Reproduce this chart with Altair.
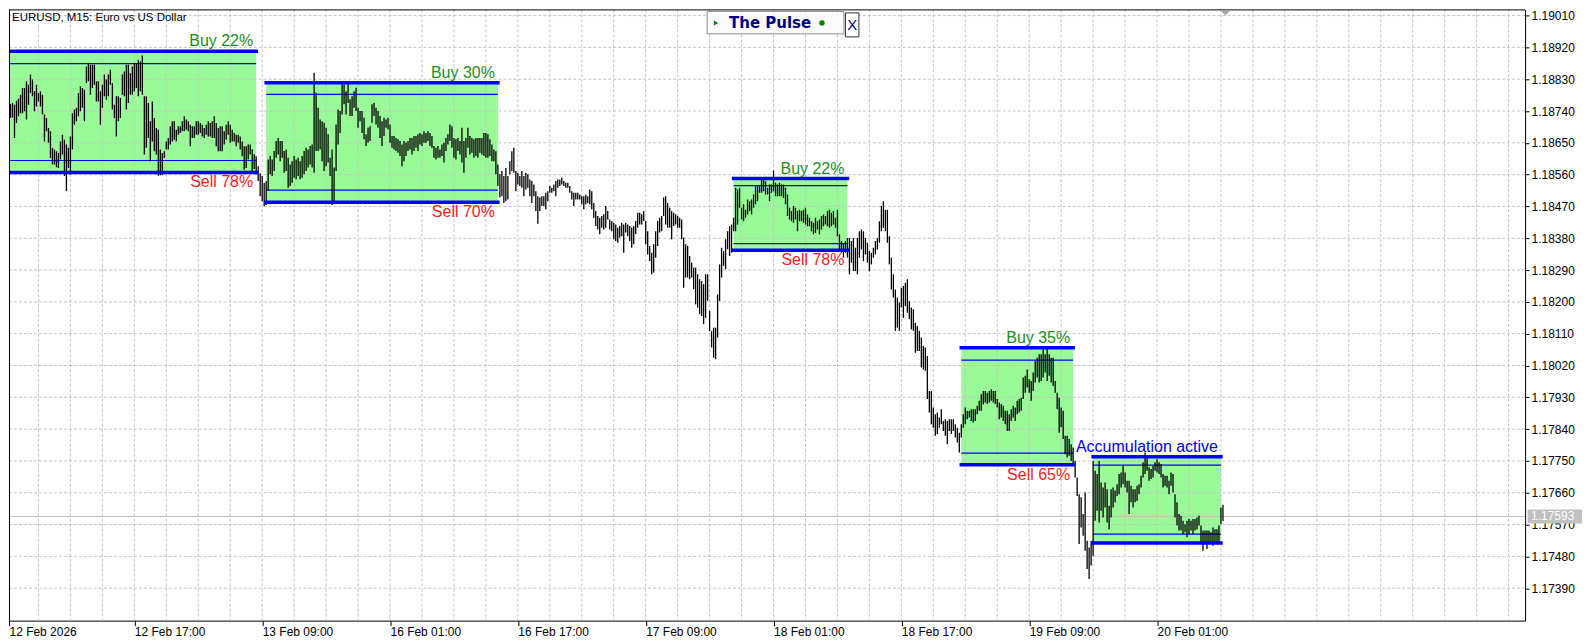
import json
import altair as alt
import pandas as pd

CHART_TITLE = "EURUSD, M15:  Euro vs US Dollar"

# Bar highs / lows in points (1 point = 0.00001), one entry per bar, oldest first
bar_high_pts = [
    118758, 118760, 118763, 118758, 118769, 118775, 118786, 118805, 118805, 118824,
    118814, 118843, 118829, 118796, 118814, 118791, 118796, 118786, 118730, 118720,
    118692, 118683, 118636, 118631, 118626, 118621, 118654, 118673, 118659, 118645,
    118636, 118668, 118734, 118744, 118749, 118791, 118810, 118805, 118800, 118866,
    118876, 118871, 118871, 118871, 118824, 118824, 118796, 118814, 118843, 118829,
    118843, 118857, 118819, 118758, 118782, 118782, 118777, 118843, 118852, 118871,
    118871, 118847, 118866, 118876, 118876, 118885, 118880, 118897, 118782, 118782,
    118763, 118711, 118767, 118720, 118692, 118687, 118631, 118621, 118626, 118654,
    118664, 118697, 118711, 118711, 118687, 118697, 118697, 118711, 118725, 118716,
    118711, 118701, 118697, 118697, 118711, 118711, 118706, 118701, 118692, 118701,
    118711, 118706, 118711, 118725, 118706, 118692, 118697, 118697, 118683, 118701,
    118711, 118701, 118687, 118678, 118673, 118673, 118668, 118654, 118640, 118640,
    118645, 118645,
    118632, 118618, 118612, 118584, 118564, 118556, 118536, 118541,
    118603, 118613, 118603, 118627, 118655, 118664, 118655, 118655, 118627, 118631,
    118608, 118589, 118598, 118613, 118603, 118608, 118598, 118613, 118627, 118636,
    118631, 118641, 118645, 118848, 118792, 118749, 118716, 118711, 118707, 118693,
    118674, 118608, 118631, 118580, 118702, 118744, 118740, 118824, 118815, 118796,
    118820, 118773, 118782, 118796, 118806, 118749, 118740, 118740, 118721, 118674,
    118693, 118697, 118759, 118763, 118749, 118740, 118726, 118711, 118721, 118716,
    118721, 118702, 118669, 118669, 118664, 118660, 118655, 118645, 118655, 118650,
    118655, 118664, 118664, 118669, 118669, 118674, 118678, 118674, 118683, 118678,
    118683, 118678, 118669, 118641, 118636, 118641, 118631, 118645, 118650, 118664,
    118674, 118702, 118697, 118664, 118660, 118664, 118655, 118693, 118655, 118664,
    118693, 118669, 118664, 118660, 118664, 118664, 118664, 118664, 118678, 118678,
    118674, 118660, 118645, 118631,
    118626, 118589, 118561, 118570, 118556, 118579,
    118556, 118598, 118626, 118636, 118570, 118565, 118556, 118570, 118556, 118565,
    118561, 118546, 118542, 118532, 118513, 118499, 118495, 118499, 118499, 118509,
    118513, 118528, 118523, 118532, 118542, 118546, 118546, 118551, 118542, 118537,
    118537, 118528, 118513, 118509, 118509, 118509, 118504, 118499, 118499, 118504,
    118499, 118518, 118513, 118480, 118457, 118443, 118438, 118443, 118448, 118471,
    118457, 118433, 118429, 118424, 118419, 118410, 118415, 118424, 118419, 118424,
    118419, 118415, 118410, 118415, 118429, 118452, 118452, 118448, 118457, 118429,
    118400, 118358, 118339, 118363, 118400, 118429, 118438, 118443, 118495, 118499,
    118480, 118466, 118457, 118452, 118448, 118443, 118438, 118433, 118382, 118363,
    118358, 118330, 118311, 118297, 118297, 118278, 118264, 118259, 118250, 118278,
    118278, 118174, 118118, 118127, 118127, 118221, 118306, 118353, 118344, 118377,
    118400, 118415, 118419, 118438,
    118523, 118518, 118523, 118466, 118476, 118461,
    118490, 118485, 118490, 118504, 118527, 118527, 118527, 118551, 118551, 118541,
    118523, 118532, 118532, 118572, 118537, 118532, 118537, 118532, 118532, 118523,
    118504, 118466, 118457, 118471, 118466, 118457, 118461, 118457, 118461, 118466,
    118447, 118438, 118428, 118424, 118438, 118428, 118433, 118443, 118447, 118443,
    118457, 118461, 118452, 118457, 118438, 118461, 118391, 118372, 118363, 118372,
    118381, 118381, 118372, 118381, 118353, 118381, 118400, 118405, 118400, 118381,
    118367, 118344, 118339, 118353, 118372, 118381, 118428, 118471, 118485, 118461,
    118461, 118386, 118325, 118278, 118235, 118212, 118198, 118240, 118245, 118254,
    118264, 118202, 118184, 118179, 118141, 118132, 118118, 118099, 118075, 118071,
    118047, 117948, 117948, 117901, 117882, 117887, 117873, 117896, 117863, 117868,
    117863, 117868, 117868, 117868, 117854, 117844, 117830, 117854, 117882, 117901,
    117892, 117892, 117896, 117896, 117896, 117906, 117920, 117939, 117948,
    117948, 117943, 117948, 117953, 117948, 117948, 117925, 117915, 117911, 117906, 117892,
    117892, 117882, 117896, 117906, 117901, 117920, 117925, 117929, 117986, 117991,
    118009, 117981, 117976, 118000, 118033, 118042, 118052, 118052, 118066, 118052,
    118075, 118052, 118042, 118042, 117976, 117943, 117929, 117901, 117892, 117821,
    117821, 117812, 117797, 117788, 117750, 117703, 117656, 117647, 117600, 117661,
    117524, 117505, 117524, 117750, 117722, 117713, 117750, 117689, 117675, 117689,
    117670, 117623, 117670, 117675, 117666, 117684, 117713, 117717, 117736, 117717,
    117694, 117694, 117680, 117670, 117670, 117680, 117684, 117708, 117746, 117774,
    117765, 117732, 117727, 117736, 117746, 117755, 117746, 117741, 117713, 117708,
    117708, 117694, 117717, 117713, 117656, 117633, 117600, 117595, 117581, 117571,
    117581, 117586, 117581, 117586, 117586, 117590, 117595, 117567, 117553, 117553,
    117553, 117553, 117548, 117562, 117557, 117557, 117567, 117618, 117626,
]

bar_low_pts = [
    118706, 118720, 118722, 118664, 118706, 118725, 118734, 118734, 118739, 118716,
    118758, 118791, 118782, 118739, 118753, 118767, 118753, 118730, 118654, 118683,
    118650, 118607, 118589, 118589, 118581, 118579, 118603, 118617, 118556, 118513,
    118579, 118560, 118631, 118701, 118711, 118725, 118739, 118749, 118711, 118819,
    118824, 118786, 118805, 118814, 118767, 118767, 118701, 118749, 118782, 118772,
    118782, 118814, 118744, 118720, 118668, 118711, 118720, 118786, 118782, 118744,
    118763, 118786, 118786, 118796, 118805, 118782, 118796, 118786, 118617, 118636,
    118664, 118598, 118654, 118626, 118617, 118557, 118558, 118558, 118607, 118631,
    118631, 118645, 118654, 118659, 118654, 118673, 118678, 118683, 118683, 118687,
    118683, 118640, 118664, 118664, 118673, 118673, 118678, 118668, 118664, 118673,
    118668, 118668, 118664, 118664, 118640, 118626, 118626, 118626, 118645, 118659,
    118673, 118650, 118654, 118654, 118640, 118650, 118631, 118612, 118574, 118579,
    118603, 118617,
    118570, 118576, 118561, 118542, 118499, 118485, 118471, 118474,
    118514, 118561, 118556, 118570, 118608, 118617, 118598, 118608, 118565, 118570,
    118523, 118528, 118537, 118551, 118547, 118556, 118547, 118551, 118561, 118570,
    118580, 118589, 118580, 118565, 118627, 118627, 118631, 118598, 118570, 118584,
    118594, 118556, 118474, 118485, 118570, 118645, 118678, 118730, 118759, 118730,
    118763, 118726, 118726, 118749, 118740, 118693, 118711, 118678, 118660, 118641,
    118650, 118655, 118707, 118726, 118702, 118693, 118664, 118641, 118669, 118693,
    118688, 118650, 118636, 118631, 118627, 118622, 118613, 118584, 118598, 118613,
    118627, 118631, 118617, 118627, 118636, 118627, 118645, 118641, 118650, 118650,
    118655, 118641, 118636, 118608, 118603, 118608, 118608, 118613, 118594, 118627,
    118645, 118655, 118636, 118608, 118603, 118627, 118617, 118594, 118565, 118608,
    118636, 118617, 118622, 118608, 118613, 118608, 118622, 118617, 118613, 118608,
    118608, 118613, 118598, 118598,
    118561, 118528, 118495, 118499, 118480, 118485,
    118490, 118561, 118570, 118565, 118513, 118532, 118528, 118523, 118499, 118518,
    118523, 118499, 118480, 118499, 118457, 118421, 118457, 118471, 118471, 118462,
    118485, 118509, 118509, 118513, 118499, 118523, 118528, 118532, 118528, 118523,
    118523, 118509, 118490, 118471, 118490, 118490, 118490, 118476, 118462, 118476,
    118480, 118476, 118462, 118438, 118415, 118405, 118391, 118410, 118405, 118410,
    118433, 118405, 118400, 118377, 118372, 118367, 118382, 118386, 118339, 118396,
    118386, 118372, 118353, 118363, 118391, 118410, 118419, 118419, 118429, 118363,
    118334, 118316, 118278, 118283, 118325, 118358, 118396, 118400, 118443, 118419,
    118410, 118410, 118377, 118415, 118419, 118410, 118410, 118377, 118240, 118269,
    118269, 118264, 118269, 118236, 118193, 118184, 118165, 118160, 118137, 118155,
    118203, 118118, 118071, 118042, 118038, 118099, 118203, 118269, 118302, 118292,
    118349, 118330, 118339, 118400,
    118400, 118419, 118466, 118433, 118428, 118438,
    118447, 118457, 118447, 118466, 118476, 118485, 118509, 118509, 118513, 118504,
    118504, 118485, 118509, 118513, 118499, 118499, 118499, 118499, 118494, 118476,
    118443, 118433, 118428, 118424, 118433, 118400, 118428, 118428, 118424, 118419,
    118414, 118414, 118400, 118391, 118395, 118405, 118391, 118405, 118414, 118419,
    118414, 118410, 118414, 118419, 118410, 118386, 118344, 118339, 118325, 118339,
    118325, 118278, 118311, 118287, 118287, 118278, 118325, 118348, 118315, 118334,
    118311, 118287, 118306, 118325, 118334, 118348, 118367, 118400, 118410, 118400,
    118367, 118306, 118235, 118212, 118118, 118127, 118118, 118184, 118155, 118188,
    118169, 118151, 118122, 118118, 118056, 118061, 118061, 118014, 118009, 118005,
    117925, 117887, 117854, 117844, 117821, 117826, 117844, 117854, 117835, 117821,
    117797, 117835, 117826, 117835, 117816, 117802, 117774, 117816, 117844, 117854,
    117868, 117873, 117863, 117859, 117863, 117882, 117892, 117892, 117910,
    117915, 117911, 117915, 117920, 117915, 117911, 117901, 117868, 117873, 117863, 117854,
    117835, 117835, 117863, 117873, 117863, 117882, 117887, 117892, 117925, 117943,
    117958, 117943, 117920, 117948, 117972, 117986, 117972, 117976, 117986, 118000,
    117976, 117991, 117972, 117962, 117943, 117896, 117830, 117845, 117812, 117769,
    117760, 117765, 117750, 117741, 117703, 117651, 117515, 117562, 117538, 117496,
    117444, 117416, 117454, 117482, 117581, 117609, 117576, 117609, 117590, 117618,
    117576, 117557, 117590, 117618, 117633, 117651, 117656, 117675, 117684, 117675,
    117661, 117600, 117633, 117618, 117633, 117637, 117656, 117675, 117703, 117713,
    117722, 117694, 117699, 117703, 117722, 117717, 117713, 117703, 117675, 117680,
    117675, 117656, 117680, 117661, 117590, 117567, 117553, 117553, 117543, 117548,
    117534, 117543, 117553, 117543, 117553, 117557, 117567, 117520, 117496, 117520,
    117501, 117515, 117520, 117510, 117515, 117515, 117515, 117571, 117580,
]

# time axis: tick bar positions and their labels
time_tick_bars = [1.25, 64, 128, 192, 256, 320, 384, 448, 512, 576]
time_tick_labels = ["12 Feb 2026", "12 Feb 17:00", "13 Feb 09:00", "16 Feb 01:00",
                    "16 Feb 17:00", "17 Feb 09:00", "18 Feb 01:00", "18 Feb 17:00",
                    "19 Feb 09:00", "20 Feb 01:00"]

price_ticks = [1.17390, 1.17480, 1.17570, 1.17660, 1.17750, 1.17840, 1.17930,
               1.18020, 1.18110, 1.18200, 1.18290, 1.18380, 1.18470, 1.18560,
               1.18650, 1.18740, 1.18830, 1.18920, 1.19010]

# accumulation zones (bar index range, price levels)
zone_start = [0, 130, 364, 478, 544]
zone_end = [125, 246, 421, 534, 608]
zone_top = [1.18909, 1.18820, 1.18549, 1.18070, 1.17762]
zone_upper = [1.18874, 1.18787, 1.18529, 1.18035, 1.17738]
zone_lower = [1.18600, 1.18516, 1.18365, 1.17772, 1.17543]
zone_bottom = [1.18566, 1.18482, 1.18346, 1.17739, 1.17518]
zone_top_label = ["Buy 22%", "Buy 30%", "Buy 22%", "Buy 35%", "Accumulation active"]
zone_bottom_label = ["Sell 78%", "Sell 70%", "Sell 78%", "Sell 65%", ""]

last_price = 1.17593

# ---------------------------------------------------------------------------
FONT = "Liberation Sans"
GREEN_TXT = "#1e8c1e"
BLUE = "#0000ff"
W, H = 1518, 612

bars = pd.DataFrame({
    "n": list(range(1, len(bar_high_pts) + 1)),
    "high": [v / 100000 for v in bar_high_pts],
    "low": [v / 100000 for v in bar_low_pts],
})
zones = pd.DataFrame({
    "start": zone_start, "end": zone_end, "top": zone_top, "upper": zone_upper,
    "lower": zone_lower, "bottom": zone_bottom,
    "top_label": zone_top_label, "bottom_label": zone_bottom_label,
    "top_color": [GREEN_TXT if s.startswith("Buy") else BLUE for s in zone_top_label],
})
xgrid = pd.DataFrame({"n": list(range(16, 753, 16))})
ygrid = pd.DataFrame({"p": price_ticks})
one = pd.DataFrame({"p": [last_price]})

xs = alt.Scale(domain=[1.25, 1.25 + W / 2], nice=False, zero=False)
ys = alt.Scale(domain=[1.172982, 1.190275], nice=False, zero=False)

label_expr = f"{json.dumps(time_tick_labels)}[indexof({json.dumps(time_tick_bars)}, datum.value)]"

x_axis = alt.Axis(values=time_tick_bars, labelExpr=label_expr, title=None, grid=False,
                  labelAlign="left", labelBaseline="top", labelPadding=1, tickSize=5,
                  labelFlush=False, labelOverlap=False, labelFont=FONT, labelFontSize=12,
                  labelColor="#000000", tickColor="#000000", domainColor="#000000")
y_axis = alt.Axis(values=price_ticks, format=".5f", orient="right", title=None, grid=False,
                  labelPadding=2, tickSize=4, labelFlush=False, labelOverlap=False,
                  labelFont=FONT, labelFontSize=12, labelColor="#000000",
                  tickColor="#000000", domainColor="#000000")


def X(field):
    return alt.X(field, scale=xs, axis=x_axis)


def Y(field):
    return alt.Y(field, scale=ys, axis=y_axis)


zone_rect = alt.Chart(zones).mark_rect(color="#98fb98", clip=True).encode(
    x=X("start:Q"), x2="end:Q", y=Y("top:Q"), y2="bottom:Q")

grid_x = alt.Chart(xgrid).mark_rule(color="#c4c4c4", strokeDash=[3, 2], strokeWidth=1).encode(
    x=X("n:Q"))
grid_y = alt.Chart(ygrid).mark_rule(color="#c4c4c4", strokeDash=[3, 2], strokeWidth=1).encode(
    y=Y("p:Q"))

bid_line = alt.Chart(one).mark_rule(color="#c0c0c0", strokeWidth=1).encode(y=Y("p:Q"))

thin_up = alt.Chart(zones).mark_rule(color=BLUE, strokeWidth=1.2, clip=True).encode(
    x=X("start:Q"), x2="end:Q", y=Y("upper:Q"))
thin_lo = alt.Chart(zones).mark_rule(color=BLUE, strokeWidth=1.2, clip=True).encode(
    x=X("start:Q"), x2="end:Q", y=Y("lower:Q"))

bar_rules = alt.Chart(bars).mark_rule(color="#000000", strokeWidth=1.3, clip=True).encode(
    x=X("n:Q"), y=Y("low:Q"), y2="high:Q")

thick_top = alt.Chart(zones).mark_rule(color=BLUE, strokeWidth=3.5, strokeCap="square", clip=True).encode(
    x=X("start:Q"), x2="end:Q", y=Y("top:Q"))
thick_bot = alt.Chart(zones).mark_rule(color=BLUE, strokeWidth=3.5, strokeCap="square", clip=True).encode(
    x=X("start:Q"), x2="end:Q", y=Y("bottom:Q"))

top_text = alt.Chart(zones).mark_text(align="right", baseline="middle", dx=-3, dy=-10,
                                      font=FONT, fontSize=16).encode(
    x=X("end:Q"), y=Y("top:Q"),
    text="top_label:N", color=alt.Color("top_color:N", scale=None))
bot_text = alt.Chart(zones).mark_text(align="right", baseline="middle", dx=-3, dy=10,
                                      font=FONT, fontSize=16, color="#ff1a1a").encode(
    x=X("end:Q"), y=Y("bottom:Q"), text="bottom_label:N")

# frame (left and top edges; right and bottom come from the axes)
frame_left = alt.Chart(one).mark_rule(color="#000000", strokeWidth=1).encode(
    x=alt.value(0.5), y=alt.value(0), y2=alt.value(H))
frame_top = alt.Chart(one).mark_rule(color="#000000", strokeWidth=1).encode(
    x=alt.value(0), x2=alt.value(W), y=alt.value(0.5))

title_text = alt.Chart(one).mark_text(align="left", baseline="middle", font=FONT,
                                      fontSize=11.5, color="#000000").encode(
    x=alt.value(3), y=alt.value(9), text=alt.value(CHART_TITLE))

# price tag on the right axis
tag_rect = alt.Chart(one).mark_rect(color="#c0c0c0", yOffset=-7, y2Offset=7).encode(
    x=alt.value(W + 2.5), x2=alt.value(W + 57), y=Y("p:Q"), y2="p:Q")
tag_text = alt.Chart(one).mark_text(align="left", baseline="middle", font=FONT, fontSize=12,
                                    color="#ffffff").encode(
    x=alt.value(W + 6), y=Y("p:Q"), text=alt.value("1.17593"))

shift_marker = alt.Chart(one).mark_point(shape="M-1,-0.5L1,-0.5L0,0.5Z", filled=True,
                                         color="#a8a8a8", size=100, opacity=1).encode(
    x=alt.value(1218), y=alt.value(3.5))

# "The Pulse" panel
pulse_box = alt.Chart(one).mark_rect(fill="#fbfbfb", stroke="#8c8c8c", strokeWidth=1).encode(
    x=alt.value(699), x2=alt.value(836), y=alt.value(2), y2=alt.value(24.5))
pulse_tri = alt.Chart(one).mark_point(shape="triangle-right", filled=True, color="#008000",
                                      size=25, opacity=1).encode(x=alt.value(708), y=alt.value(13.5))
pulse_txt = alt.Chart(one).mark_text(align="left", baseline="middle", font="DejaVu Sans",
                                     fontSize=15, fontWeight=600, color="#000080").encode(
    x=alt.value(721), y=alt.value(13.5), text=alt.value("The Pulse"))
pulse_dot = alt.Chart(one).mark_point(shape="circle", filled=True, color="#008000",
                                      size=30, opacity=1).encode(x=alt.value(814), y=alt.value(13.5))
x_box = alt.Chart(one).mark_rect(fill="#ffffff", stroke="#303030", strokeWidth=1).encode(
    x=alt.value(837.5), x2=alt.value(851), y=alt.value(3.5), y2=alt.value(27.5))
x_txt = alt.Chart(one).mark_text(align="center", baseline="middle", font=FONT, fontSize=15,
                                 color="#000080").encode(
    x=alt.value(844.3), y=alt.value(16), text=alt.value("X"))

chart = alt.layer(
    zone_rect, grid_x, grid_y, bid_line, thin_up, thin_lo, bar_rules,
    thick_top, thick_bot, top_text, bot_text, frame_left, frame_top, title_text,
    tag_rect, tag_text, shift_marker,
    pulse_box, pulse_tri, pulse_txt, pulse_dot, x_box, x_txt,
).properties(
    width=W, height=H,
    padding={"left": 0, "top": 0, "right": 0, "bottom": 0},
    background="#ffffff",
).configure_view(strokeWidth=0)

chart.save("out.html", embed_options={"renderer": "svg", "actions": False})
